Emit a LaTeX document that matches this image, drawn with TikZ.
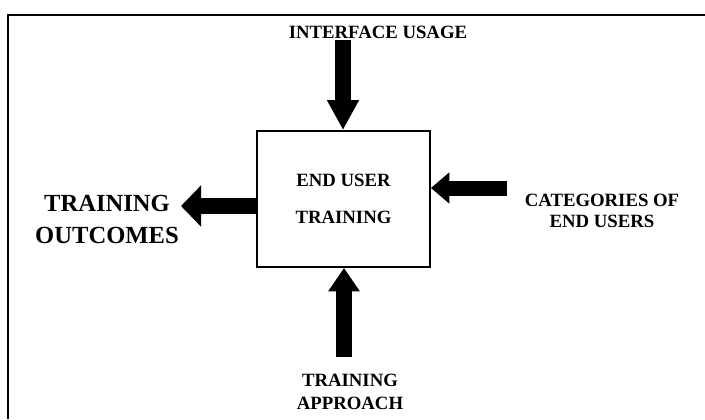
\documentclass[tikz,border=0pt]{standalone}
\usepackage{fontspec}
\setmainfont{Liberation Serif}
\usepackage{tikz}
\usetikzlibrary{arrows.meta,positioning}
\tikzset{lbl/.style={font=\fontsize{16}{19.6}\selectfont\bfseries,align=center,inner sep=0pt}}
\tikzset{fatarrow/.style={line width=0.5cm,-{Triangle[length=0.7cm,width=0.9cm]}}}

\begin{document}
\begin{tikzpicture}[x=0.03cm,y=-0.03cm]
\useasboundingbox (0,0) rectangle (705,419);
% \draw[help lines,step=50] (0,0) grid (705,419);
\draw[line width=2pt] (8,419) -- (8,15) -- (705,15);
\node (box) [draw=black,line width=1.6pt,minimum width=5.19cm,minimum height=4.08cm,lbl,font=\fontsize{16}{31.6}\selectfont\bfseries] at (343.5,199) {END USER\\TRAINING};
\node (iface) [lbl] at (378,32) {INTERFACE USAGE};
\node (outcomes) [lbl,font=\fontsize{21}{27.3}\selectfont\bfseries] at (107,219) {TRAINING\\OUTCOMES};
\node (cats) [lbl,font=\fontsize{16}{18.5}\selectfont\bfseries] at (602,211) {CATEGORIES OF\\END USERS};
\node (approach) [lbl] at (350,392) {TRAINING\\APPROACH};
%
\coordinate (ifacetail) at (343,40);
\coordinate (cattail) at (507,188);
\coordinate (apptail) at (344,357);
\coordinate (outtip) at (181,206);
\draw[fatarrow,-{Triangle[length=0.9cm,width=0.9cm]}] (ifacetail) -- (ifacetail |- box.north);
\draw[fatarrow,line width=0.45cm,-{Triangle[length=0.55cm,width=0.9cm]}] (cattail) -- (cattail -| box.east);
\draw[fatarrow] (apptail) -- (apptail |- box.south);
\draw[fatarrow,-{Triangle[length=0.6cm,width=1.2cm]}] (outtip -| box.west) -- (outtip);
\end{tikzpicture}
\end{document}
